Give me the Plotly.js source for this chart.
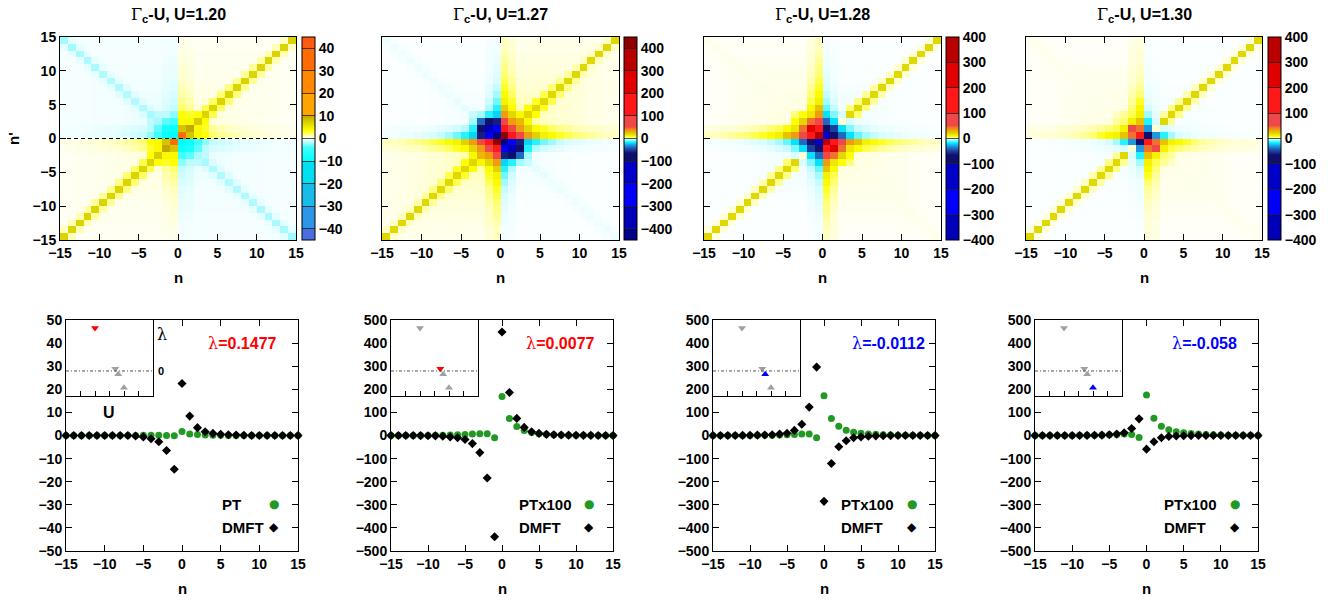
<!DOCTYPE html>
<html><head><meta charset="utf-8">
<script src="https://cdn.plot.ly/plotly-3.0.1.min.js"></script>
<style>body{margin:0;background:#fff}#plot{width:1337px;height:600px}</style>
</head><body><div id="plot"></div>
<script>
// ================= DATA =================
// heatmap cell index n (cell spans n..n+1)
const cellN = [-15,-14,-13,-12,-11,-10,-9,-8,-7,-6,-5,-4,-3,-2,-1,0,1,2,3,4,5,6,7,8,9,10,11,12,13,14];
const panelU = ['1.20','1.27','1.28','1.30'];

// core blocks: rows n'=3,2,1,0 ; columns n=-4..3 (rows n'<0 follow by inversion symmetry)
const core120 = [
  [-2,  -1.5,-1.5,-2.5, 3.5, 3,  3.5, 7],
  [-1.5,-2,  -3.5,-4,   4,   4,  7.5, 3.5],
  [-1.5,-3.5,-8,  -9,   8,   10, 4,   3],
  [-2.5,-4,  -9,  -10,  35,  8,  4,   3.5]
];
// outer profiles, index k=4..14
const diag120  = [7,7,7,7,7,7,7,7,7,7,7];
const band120  = [2.5,2.2,2,1.8,1.6,1.5,1.4,1.3,1.2,1.1,1];
const armS120  = [2,1.6,1.3,1.1,0.9,0.8,0.7,0.6,0.5,0.4,0.35];
const arm2S120 = [1.5,1.2,1,0.8,0.7,0.6,0.5,0.45,0.4,0.35,0.3];
const armO120  = [-1.3,-1.1,-0.9,-0.7,-0.6,-0.5,-0.45,-0.4,-0.35,-0.3,-0.3];
const arm2O120 = [-1,-0.8,-0.7,-0.6,-0.5,-0.45,-0.4,-0.35,-0.3,-0.3,-0.3];
const anti120  = [-1.8,-1.8,-1.8,-1.8,-1.8,-1.8,-1.9,-1.9,-2,-2.1,-2.2];
const aband120 = [-0.8,-0.7,-0.7,-0.7,-0.6,-0.6,-0.6,-0.6,-0.6,-0.6,-0.6];
const bgS120   = [0.6,0.5,0.45,0.4,0.35,0.3,0.3,0.25,0.25,0.2,0.2];
const bgO120   = [-0.45,-0.4,-0.35,-0.3,-0.3,-0.25,-0.25,-0.2,-0.2,-0.2,-0.2];

const core127 = [
  [-4,  -6,  -15,  -22,  35,  20,  10,  20],
  [-6,  -40, -80,  -60,  80,  35,  28,  10],
  [-15, -80, -380, -230, 150, 80,  35,  20],
  [-22, -60, -230, -420, 430, 150, 80,  35]
];
const diag127  = [20,20,20,20,20,20,20,20,20,20,20];
const band127  = [8,7,6,5,4.5,4,3.5,3,3,2.5,2.5];
const armS127  = [22,12,9,7,6,5,4.5,4,3.5,3,3];
const arm2S127 = [9,7,5.5,4.5,4,3.5,3,2.8,2.5,2,2];
const armO127  = [-15,-9,-6,-4,-3,-2.5,-2,-1.5,-1.5,-1,-1];
const arm2O127 = [-5,-3.5,-2.5,-2,-1.5,-1.2,-1,-1,-0.8,-0.8,-0.6];
const anti127  = [-2,-1.7,-1.5,-1.4,-1.3,-1.3,-1.3,-1.3,-1.3,-1.3,-1.3];
const aband127 = [-1.2,-1,-0.8,-0.8,-0.7,-0.7,-0.6,-0.6,-0.6,-0.6,-0.6];
const bgS127   = [3.5,3,2.5,2.2,2,1.8,1.5,1.3,1.2,1,1];
const bgO127   = [-0.8,-0.7,-0.6,-0.5,-0.45,-0.4,-0.4,-0.35,-0.3,-0.3,-0.3];

const core128 = [
  [5,   8,   15,  35,  -20, -8,  -3,  20],
  [8,   20,  45,  70,  -40, -20, 2,   -3],
  [15,  45,  220, 150, -85, -50, -20, -8],
  [35,  70,  150, 350, -150,-85, -40, -20]
];
const diag128  = [20,20,20,20,20,20,20,20,20,20,20];
const band128  = [5,4.5,4,3.5,3,2.5,2.2,2,1.8,1.6,1.5];
const armS128  = [-10,-6,-4,-3,-2.5,-2,-1.5,-1.2,-1,-1,-0.8];
const arm2S128 = [-4,-3,-2,-1.5,-1.2,-1,-0.8,-0.7,-0.6,-0.5,-0.5];
const armO128  = [25,12,9,7,6,5,4.5,4,3.5,3,3];
const arm2O128 = [9,6,5,4,3.5,3,2.5,2,2,1.8,1.5];
const anti128  = [1.5,1.3,1.2,1.1,1,1,1,0.9,0.9,0.9,0.9];
const aband128 = [1.1,1,0.9,0.8,0.8,0.7,0.7,0.7,0.6,0.6,0.6];
const bgS128   = [-1.2,-1,-0.8,-0.6,-0.5,-0.4,-0.4,-0.35,-0.3,-0.3,-0.3];
const bgO128   = [1.6,1.4,1.2,1,0.9,0.8,0.7,0.6,0.5,0.5,0.4];

const core130 = [
  [3,   4,   6,   12,  -6,  -2,  4,   20],
  [4,   5,   12,  25,  -15, -3,  20,  4],
  [6,   12,  60,  45,  -30, 2,   -3,  -2],
  [12,  25,  45,  120, -75, -30, -15, -6]
];
const diag130  = [20,20,20,20,20,20,20,20,20,20,20];
const band130  = [4.5,4,3.5,3,2.5,2.2,2,1.8,1.6,1.5,1.4];
const armS130  = [-3,-2,-1.5,-1.2,-1,-0.8,-0.7,-0.6,-0.5,-0.5,-0.4];
const arm2S130 = [-1.5,-1.2,-1,-0.8,-0.7,-0.6,-0.5,-0.5,-0.4,-0.4,-0.4];
const armO130  = [10,7,5,4,3.5,3,2.5,2,2,1.8,1.5];
const arm2O130 = [5,4,3.5,3,2.5,2,1.8,1.5,1.4,1.3,1.2];
const anti130  = [1.2,1.1,1,1,0.9,0.9,0.8,0.8,0.8,0.8,0.8];
const aband130 = [0.9,0.8,0.8,0.7,0.7,0.6,0.6,0.6,0.6,0.6,0.6];
const bgS130   = [-0.7,-0.6,-0.5,-0.5,-0.4,-0.4,-0.35,-0.3,-0.3,-0.3,-0.3];
const bgO130   = [1.3,1.1,1,0.9,0.8,0.7,0.6,0.5,0.5,0.4,0.4];

// bottom panels: n = -15..15
const nVals = [-15,-14,-13,-12,-11,-10,-9,-8,-7,-6,-5,-4,-3,-2,-1,0,1,2,3,4,5,6,7,8,9,10,11,12,13,14,15];
const pt120   = [0,0,0,0,0,0,0,0,0,0, 0.1,0.1,0.1,0,-0.1, 1.7,0.7,0.4,0.2,0.1, 0.1,0,0,0,0,0,0,0,0,0,0];
const dmft120 = [0,0,0,0,0,0,0,0,0,-0.2, -0.6,-1.4,-2.7,-6.5,-14.6, 22.5,8.4,3.4,1.6,0.9, 0.5,0.3,0.2,0.1,0,0,0,0,0,0,0];
const ptx100_127 = [0.2,0.2,0.3,0.3,0.4,0.5,0.7,1,2,3, 4,6,8,8,-10, 169,74,39,22,13, 8,5,3,2,1.5,1,0.8,0.6,0.5,0.4,0.3];
const dmft127    = [0,0,0,0,-0.5,-1,-1.5,-3,-6,-10, -17,-35,-74,-184,-438, 448,186,74,35,16, 9,5,3,2,1.5,1,0.6,0.4,0.3,0.2,0.1];
const ptx100_128 = [0.2,0.2,0.3,0.3,0.4,0.5,0.7,1,1.5,2, 3,4,7,7,-10, 172,74,40,23,14, 10,7,5,3,2,1.5,1,0.8,0.6,0.5,0.4];
const dmft128    = [0,0,0,0,0.5,1,1.5,2,3,6, 10,22,49,123,296, -285,-121,-49,-23,-10, -6,-3,-2,-1,-0.5,-0.3,-0.2,-0.1,0,0,0];
const ptx100_130 = [0.2,0.2,0.3,0.3,0.4,0.5,0.7,1,1.5,2, 3,4,7,4,-9, 175,75,40,25,16, 12,9,6,4,3,2,1.5,1,0.8,0.6,0.5];
const dmft130    = [0,0,0,0,0,0,0.3,0.5,1,1.5, 3,6,12,30,72, -59,-27,-10,-4,-2, -1,-0.5,-0.3,-0.2,0,0,0,0,0,0,0];

const ptLabels = ['PT','PTx100','PTx100','PTx100'];
const lamText  = ['0.1477','0.0077','-0.0112','-0.058'];

// inset: leading eigenvalue lambda vs U
const insetU   = [1.20, 1.27, 1.28, 1.30];
const insetLam = [0.1477, 0.0077, -0.0112, -0.058];

// colour palettes (absolute values)
const cs1Stops = [[-45,'#4a6ee0'],[-40,'#4a6ee0'],[-40,'#2c96e8'],[-30,'#2c96e8'],[-30,'#18bce8'],[-20,'#18bce8'],
  [-20,'#00e0f0'],[-10,'#00e0f0'],[-10,'#00ffff'],[-4,'#40ffff'],[-2,'#a8faff'],[-0.8,'#dcfdff'],[0,'#ffffff'],
  [0.8,'#ffffd0'],[2,'#ffff70'],[3.5,'#ffff00'],[7,'#dcd400'],[10,'#c4a800'],[10,'#ffa400'],[20,'#ffa400'],
  [20,'#ff8800'],[30,'#ff8800'],[30,'#ff6c00'],[40,'#ff6c00'],[40,'#ff5a10'],[45,'#ff5a10']];
const cs2Stops = [[-450,'#000088'],[-400,'#000088'],[-400,'#0000b8'],[-300,'#0000b8'],[-300,'#0000f8'],[-200,'#0000f8'],
  [-200,'#0000c8'],[-100,'#0000c8'],[-100,'#10106c'],[-65,'#10106c'],[-45,'#2050b0'],[-30,'#2098e0'],[-18,'#00f0ff'],
  [-8,'#80f8ff'],[-3,'#d8fcff'],[0,'#ffffff'],[3,'#ffffc0'],[8,'#ffff00'],[20,'#e0d800'],[30,'#f0b000'],[45,'#f07030'],
  [50,'#f05030'],[50,'#f04848'],[100,'#f04848'],[100,'#ff1818'],[200,'#ff1818'],[200,'#e00000'],[300,'#e00000'],
  [300,'#b80000'],[400,'#b80000'],[400,'#900000'],[450,'#900000']];
const cb1Ticks = [-40,-30,-20,-10,0,10,20,30,40];
const cb2Ticks = [-400,-300,-200,-100,0,100,200,300,400];
const zRange = [45, 450, 400, 400];

// ================= BUILD =================
const P = [
  {core:core120,diag:diag120,band:band120,armS:armS120,arm2S:arm2S120,armO:armO120,arm2O:arm2O120,anti:anti120,aband:aband120,bgS:bgS120,bgO:bgO120},
  {core:core127,diag:diag127,band:band127,armS:armS127,arm2S:arm2S127,armO:armO127,arm2O:arm2O127,anti:anti127,aband:aband127,bgS:bgS127,bgO:bgO127},
  {core:core128,diag:diag128,band:band128,armS:armS128,arm2S:arm2S128,armO:armO128,arm2O:arm2O128,anti:anti128,aband:aband128,bgS:bgS128,bgO:bgO128},
  {core:core130,diag:diag130,band:band130,armS:armS130,arm2S:arm2S130,armO:armO130,arm2O:arm2O130,anti:anti130,aband:aband130,bgS:bgS130,bgO:bgO130}
];
function cellValue(p,a,b){
  if (a>=-4 && a<=3 && b>=-4 && b<=3){
    if (b>=0) return p.core[3-b][a+4];
    return p.core[3-(-1-b)][(-1-a)+4];
  }
  let u=a+0.5, v=b+0.5;
  if (u+v<0 || (u+v===0 && u<0)){u=-u;v=-v;}
  if (v>u){const t=u;u=v;v=t;}
  const k=Math.round(u-0.5), j=Math.round(v-0.5), i=k-4;
  if (j===k) return p.diag[i];
  if (j===-1-k) return p.anti[i];
  if (j===k-1) return p.band[i];
  if (j===-k) return p.aband[i];
  if (j===0) return p.armS[i];
  if (j===-1) return p.armO[i];
  if (j===1) return p.arm2S[i];
  if (j===-2) return p.arm2O[i];
  return j>0 ? p.bgS[i] : p.bgO[i];
}
function buildMatrix(p){ return cellN.map(b => cellN.map(a => cellValue(p,a,b))); }
function normScale(stops, lo, hi){
  return stops.filter(s=>s[0]>=lo && s[0]<=hi).map(s=>[(s[0]-lo)/(hi-lo), s[1]]);
}

const W=1337, H=600;
const FONT='Liberation Sans, Arial, Helvetica, sans-serif';
const tf={family:FONT,size:14,color:'#000',weight:'bold'};
const hx=[[60,296],[382,619],[704,941],[1026,1262]], hy=[37,240];
const bx=[[66,298],[391,613],[713,935],[1035,1258]], by=[320,551];
const cbx=[302,624,946,1268];
const px=v=>v/W, py=v=>1-v/H;
const ref=(c,id)=> id===1? c : c+id;
const key=(c,id)=> id===1? c+'axis' : c+'axis'+id;

const traces=[], layout={width:W,height:H,margin:{l:0,r:0,t:0,b:0},showlegend:false,
  paper_bgcolor:'#fff',plot_bgcolor:'#fff',font:{family:FONT,color:'#000'},shapes:[],annotations:[]};
const cellX = cellN.map(n=>n+0.5);
const gSymbol = "<span style=\"font-family:'DejaVu Serif';font-weight:normal\">";

for (let i=0;i<4;i++){
  const hid=i+1, bid=i+5, iid=i+9;
  const Z=zRange[i];
  const stops = i===0? cs1Stops : cs2Stops;
  traces.push({type:'heatmap',x:cellX,y:cellX,z:buildMatrix(P[i]),zmin:-Z,zmax:Z,zsmooth:false,
    colorscale:normScale(stops,-Z,Z),xaxis:ref('x',hid),yaxis:ref('y',hid),hoverinfo:'skip',
    colorbar:{x:px(cbx[i]),xanchor:'left',xpad:0,xref:'paper',y:py((hy[0]+hy[1])/2),yanchor:'middle',yref:'paper',
      len:hy[1]-hy[0],lenmode:'pixels',ypad:0,thickness:13,thicknessmode:'pixels',outlinewidth:1,outlinecolor:'#000',
      tickvals:i===0?cb1Ticks:cb2Ticks,ticks:'inside',ticklen:13,tickwidth:0.8,tickcolor:'#222',tickfont:tf}});
  const axCommon={ticks:'inside',ticklen:6,tickcolor:'#000',showline:true,mirror:'ticks',linecolor:'#000',linewidth:1,
    zeroline:false,showgrid:false,tickfont:tf,fixedrange:true};
  layout[key('x',hid)]=Object.assign({},axCommon,{domain:[px(hx[i][0]),px(hx[i][1])],range:[-15,15],
    tickvals:[-15,-10,-5,0,5,10,15],anchor:ref('y',hid)});
  layout[key('y',hid)]=Object.assign({},axCommon,{domain:[py(hy[1]),py(hy[0])],range:[-15,15],
    tickvals:[-15,-10,-5,0,5,10,15],anchor:ref('x',hid),showticklabels:i===0});
  // bottom
  const ptY=[pt120,ptx100_127,ptx100_128,ptx100_130][i];
  const dmY=[dmft120,dmft127,dmft128,dmft130][i];
  const ymax = i===0?50:500, dy = i===0?10:100;
  const yt=[]; for(let t=-ymax;t<=ymax+1e-9;t+=dy) yt.push(t);
  traces.push({type:'scatter',mode:'markers',x:nVals,y:ptY,xaxis:ref('x',bid),yaxis:ref('y',bid),
    marker:{symbol:'circle',size:7,color:'#229922'},hoverinfo:'skip',cliponaxis:false});
  traces.push({type:'scatter',mode:'markers',x:nVals,y:dmY,xaxis:ref('x',bid),yaxis:ref('y',bid),
    marker:{symbol:'diamond',size:7,color:'#000'},hoverinfo:'skip',cliponaxis:false});
  layout[key('x',bid)]=Object.assign({},axCommon,{domain:[px(bx[i][0]),px(bx[i][1])],range:[-15,15],
    tickvals:[-15,-10,-5,0,5,10,15],anchor:ref('y',bid)});
  layout[key('y',bid)]=Object.assign({},axCommon,{domain:[py(by[1]),py(by[0])],range:[-ymax,ymax],
    tickvals:yt,anchor:ref('x',bid)});
  // inset
  const oth=[], cur=[];
  insetU.forEach((u,j)=>{ (j===i?cur:oth).push(j); });
  const sym=j=> insetLam[j]>0?'triangle-down':'triangle-up';
  traces.push({type:'scatter',mode:'markers',x:oth.map(j=>insetU[j]),y:oth.map(j=>insetLam[j]),
    xaxis:ref('x',iid),yaxis:ref('y',iid),marker:{symbol:oth.map(sym),size:7,color:'#a0a0a0'},hoverinfo:'skip'});
  traces.push({type:'scatter',mode:'markers',x:cur.map(j=>insetU[j]),y:cur.map(j=>insetLam[j]),
    xaxis:ref('x',iid),yaxis:ref('y',iid),marker:{symbol:cur.map(sym),size:7,color:insetLam[i]>0?'#ff0000':'#0000ff'},hoverinfo:'skip'});
  layout[key('x',iid)]={domain:[px(bx[i][0]),px(bx[i][0]+87)],range:[1.10,1.40],tickvals:[1.15,1.20,1.25,1.30,1.35],
    ticks:'inside',ticklen:5,tickcolor:'#000',showticklabels:false,showline:true,mirror:true,linecolor:'#000',linewidth:1,
    zeroline:false,showgrid:false,anchor:ref('y',iid),fixedrange:true};
  layout[key('y',iid)]={domain:[py(396),py(by[0])],range:[-0.086,0.175],ticks:'',showticklabels:false,showline:true,
    mirror:true,linecolor:'#000',linewidth:1,zeroline:false,showgrid:false,anchor:ref('x',iid),fixedrange:true};
  layout.shapes.push({type:'line',xref:ref('x',iid)+' domain',x0:0,x1:1,yref:ref('y',iid),y0:0,y1:0,
    line:{color:'#555',width:1,dash:'3px,2px,1px,2px'}});

  // annotations
  const A=layout.annotations;
  A.push({xref:'paper',yref:'paper',x:px((hx[i][0]+hx[i][1])/2),y:py(15),xanchor:'center',yanchor:'middle',showarrow:false,
    text:gSymbol+'Γ</span><sub>c</sub>-U, U='+panelU[i],font:{family:FONT,size:16,weight:'bold',color:'#000'}});
  A.push({xref:'paper',yref:'paper',x:px((hx[i][0]+hx[i][1])/2),y:py(277),xanchor:'center',yanchor:'middle',showarrow:false,
    text:'n',font:{family:FONT,size:15,weight:'bold',color:'#000'}});
  A.push({xref:'paper',yref:'paper',x:px((bx[i][0]+bx[i][1])/2),y:py(588),xanchor:'center',yanchor:'middle',showarrow:false,
    text:'n',font:{family:FONT,size:15,weight:'bold',color:'#000'}});
  const lamRight=[279,597,927,1239][i];
  A.push({xref:'paper',yref:'paper',x:px(lamRight),y:py(343),xanchor:'right',yanchor:'middle',showarrow:false,
    text:gSymbol+'λ</span>='+lamText[i],font:{family:FONT,size:16,weight:'bold',color:insetLam[i]>0?'#ff0000':'#0000ff'}});
  const legX=[220,517,839,1162][i], mkX=[274,589,912,1235][i];
  A.push({xref:'paper',yref:'paper',x:px(legX),y:py(504),xanchor:'left',yanchor:'middle',showarrow:false,
    text:ptLabels[i],font:{family:FONT,size:15,weight:'bold',color:'#000'}});
  A.push({xref:'paper',yref:'paper',x:px(legX),y:py(527),xanchor:'left',yanchor:'middle',showarrow:false,
    text:'DMFT',font:{family:FONT,size:15,weight:'bold',color:'#000'}});
  A.push({xref:'paper',yref:'paper',x:px(mkX),y:py(504),xanchor:'center',yanchor:'middle',showarrow:false,
    text:'●',font:{family:'DejaVu Sans',size:12,color:'#229922'}});
  A.push({xref:'paper',yref:'paper',x:px(mkX),y:py(527),xanchor:'center',yanchor:'middle',showarrow:false,
    text:'◆',font:{family:'DejaVu Sans',size:12,color:'#000'}});
}
// panel-1 extras
layout.shapes.push({type:'line',xref:'x domain',x0:0,x1:1,yref:'y',y0:0,y1:0,line:{color:'#000',width:1.2,dash:'4px,3px'}});
layout.annotations.push({xref:'paper',yref:'paper',x:px(13),y:py(139),textangle:-90,xanchor:'center',yanchor:'middle',
  showarrow:false,text:"n'",font:{family:FONT,size:15,weight:'bold',color:'#000'}});
layout.annotations.push({xref:'paper',yref:'paper',x:px(162),y:py(334),xanchor:'center',yanchor:'middle',showarrow:false,
  text:gSymbol+'λ</span>',font:{family:FONT,size:16,color:'#000'}});
layout.annotations.push({xref:'paper',yref:'paper',x:px(161),y:py(371),xanchor:'center',yanchor:'middle',showarrow:false,
  text:'0',font:{family:FONT,size:11,weight:'bold',color:'#000'}});
layout.annotations.push({xref:'paper',yref:'paper',x:px(109),y:py(412),xanchor:'center',yanchor:'middle',showarrow:false,
  text:'U',font:{family:FONT,size:16,weight:'bold',color:'#000'}});

Plotly.newPlot('plot',traces,layout,{staticPlot:true,displayModeBar:false});
</script></body></html>
